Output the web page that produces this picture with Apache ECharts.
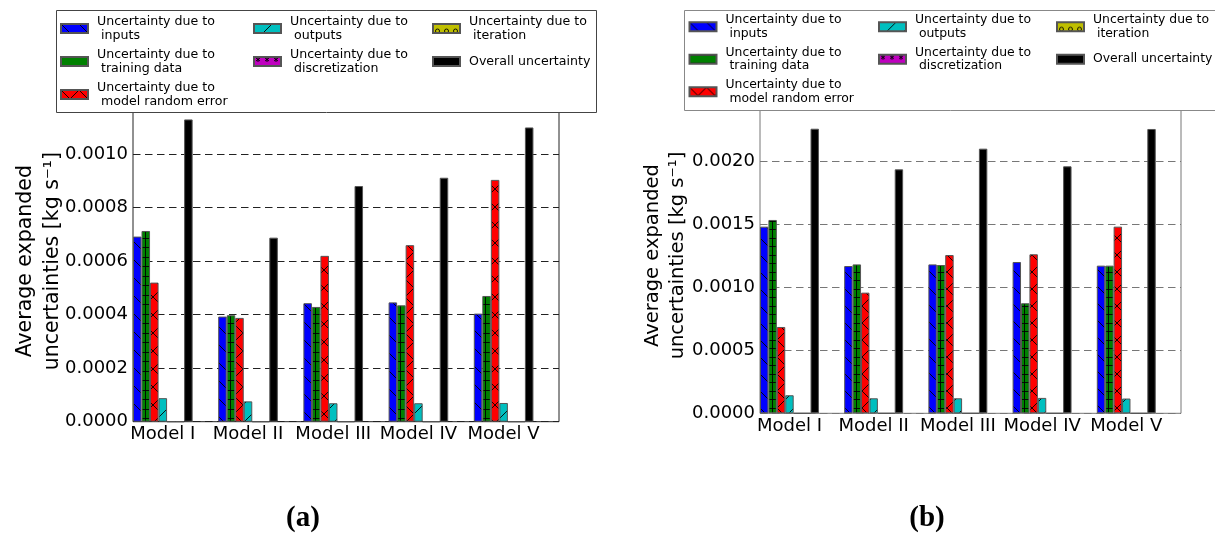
<!DOCTYPE html>
<html>
<head>
<meta charset="utf-8">
<script src="https://cdn.jsdelivr.net/npm/echarts@6/dist/echarts.min.js"></script>
<style>
  html, body { margin: 0; padding: 0; background: #fff; }
  #wrap { position: relative; width: 1215px; height: 533px; overflow: hidden; }
  #chartA { position: absolute; left: 0; top: 0; width: 607px; height: 533px; }
  #chartB { position: absolute; left: 607px; top: 0; width: 608px; height: 533px; filter: blur(0.45px); }
</style>
</head>
<body>
<div id="wrap">
  <div id="chartA"></div>
  <div id="chartB"></div>
</div>
<script>
// Model groups on the x axis
const models = ['Model I', 'Model II', 'Model III', 'Model IV', 'Model V'];

// Uncertainty sources, in legend order (column-major, three columns)
const sourceNames = [
  'Uncertainty due to\n inputs',
  'Uncertainty due to\n training data',
  'Uncertainty due to\n model random error',
  'Uncertainty due to\n outputs',
  'Uncertainty due to\n discretization',
  'Uncertainty due to\n iteration',
  'Overall uncertainty'
];

// Panel (a): average expanded uncertainties [kg s^-1]
const inputsA         = [0.000692, 0.000393, 0.000443, 0.000446, 0.000404];
const trainingA       = [0.000713, 0.000398, 0.000429, 0.000435, 0.000470];
const randomErrorA    = [0.000520, 0.000388, 0.000620, 0.000660, 0.000904];
const outputsA        = [0.0000880, 0.0000760, 0.0000690, 0.0000690, 0.0000700];
const discretizationA = [0, 0, 0, 0, 0];
const iterationA      = [0, 0, 0, 0, 0];
const overallA        = [0.001130, 0.000688, 0.000881, 0.000912, 0.001100];

// Panel (b): average expanded uncertainties [kg s^-1]
const inputsB         = [0.001479, 0.001167, 0.001180, 0.001199, 0.001170];
const trainingB       = [0.001532, 0.001180, 0.001175, 0.000872, 0.001170];
const randomErrorB    = [0.000684, 0.000956, 0.001254, 0.001260, 0.001479];
const outputsB        = [0.000143, 0.000119, 0.000119, 0.000122, 0.000117];
const discretizationB = [0, 0, 0, 0, 0];
const iterationB      = [0, 0, 0, 0, 0];
const overallB        = [0.002255, 0.001933, 0.002097, 0.001957, 0.002253];

// Y tick settings per panel
const yTicksA = { max: 0.0012, interval: 0.0002 };
const yTicksB = { max: 0.0025, interval: 0.0005 };

const yAxisTitle = 'Average expanded\nuncertainties [kg s\u207B\u00B9]';

// Fill colours and hatch kinds for the seven sources
const fills   = ['#0000ff', '#008000', '#ff0000', '#00bfbf', '#bf00bf', '#bfbf00', '#000000'];
const hatches = ['back', 'plus', 'cross', 'fwd', 'star', 'ring', 'none'];

// Each model occupies 10 narrow slots: 7 bars followed by 3 empty slots.
// The model name sits under the middle bar of its group.
const SLOTS_PER_MODEL = 10;
const LABEL_SLOT = Math.floor(sourceNames.length / 2);

function slotCategories() {
  const cats = [];
  models.forEach((m, i) => {
    for (let s = 0; s < SLOTS_PER_MODEL; s++) cats.push(m + '#' + s);
  });
  return cats;
}

function slotData(vals, k) {
  const out = new Array(models.length * SLOTS_PER_MODEL).fill(null);
  vals.forEach((v, i) => { out[i * SLOTS_PER_MODEL + k] = v; });
  return out;
}

function makePattern(fill, kind, p) {
  const c = document.createElement('canvas');
  let w, h;
  if (kind === 'plus') { w = p.pitch; h = p.plusTile; }
  else if (kind === 'star' || kind === 'ring') { w = 9; h = 9; }
  else if (kind === 'none') { w = 4; h = 4; }
  else { w = p.diag; h = p.diag; }
  c.width = w; c.height = h;
  const g = c.getContext('2d');
  g.fillStyle = fill;
  g.fillRect(0, 0, w, h);
  g.strokeStyle = 'rgba(0,0,0,0.9)';
  g.lineWidth = 1;
  const line = (x1, y1, x2, y2) => { g.beginPath(); g.moveTo(x1, y1); g.lineTo(x2, y2); g.stroke(); };
  const S = w;
  if (kind === 'back' || kind === 'cross') {
    for (let k = -1; k <= 1; k++) line(-1, -1 + k * S, S + 1, S + 1 + k * S);
  }
  if (kind === 'fwd' || kind === 'cross') {
    for (let k = 0; k <= 2; k++) line(-1, k * S + 1, S + 1, k * S - S - 1);
  }
  if (kind === 'plus') {
    g.fillStyle = 'rgba(0,0,0,0.9)';
    g.fillRect(0, 0, w, 1);
    g.fillRect(0, p.plusSplit, w, 1);
    g.fillRect(p.plusX, 0, 1, h);
  }
  if (kind === 'star') {
    line(2, 1, 6, 4); line(6, 1, 2, 4); line(4, 0, 4, 5);
  }
  if (kind === 'ring') {
    g.beginPath(); g.arc(4.5, 7, 2, 0, Math.PI * 2); g.stroke();
  }
  return { image: c, repeat: 'repeat' };
}

function buildPanel(el, cfg) {
  const chart = echarts.init(el, null, { renderer: 'canvas' });

  const series = cfg.values.map((vals, k) => ({
    type: 'bar',
    name: sourceNames[k],
    barWidth: '100%',
    barGap: '-100%',
    barCategoryGap: 0,
    z: 2,
    itemStyle: {
      color: makePattern(fills[k], hatches[k], cfg.pattern),
      borderColor: cfg.barEdge,
      borderWidth: 1
    },
    data: slotData(vals, k)
  }));

  const legendText = {
    fontFamily: 'DejaVu Sans',
    fontSize: cfg.legend.fontSize,
    lineHeight: cfg.legend.lineHeight,
    color: '#000',
    padding: [0, 0, 0, 4]
  };
  const cols = [[0, 1, 2], [3, 4], [5, 6]];
  const legends = cols.map((idx, c) => ({
    orient: 'vertical',
    left: cfg.legend.cols[c],
    top: cfg.legend.top,
    padding: 0,
    itemGap: cfg.legend.gap,
    itemWidth: 27,
    itemHeight: 9,
    icon: 'rect',
    selectedMode: false,
    z: 20,
    textStyle: legendText,
    data: idx.map(k => sourceNames[k].indexOf('\n') < 0
      ? { name: sourceNames[k], textStyle: { lineHeight: cfg.legend.lineHeight * 2 } }
      : { name: sourceNames[k] })
  }));

  chart.setOption({
    animation: false,
    backgroundColor: '#fff',
    textStyle: { fontFamily: 'DejaVu Sans' },
    grid: {
      left: cfg.grid.left, right: cfg.grid.right, top: cfg.grid.top, bottom: cfg.grid.bottom,
      containLabel: false,
      outerBoundsMode: 'none',
      show: true, borderColor: cfg.spine, borderWidth: 1, backgroundColor: 'transparent'
    },
    legend: legends,
    graphic: [
      {
        type: 'rect', z: 10,
        shape: cfg.legendBox,
        style: { fill: '#fff', stroke: cfg.legendEdge, lineWidth: 1 }
      },
      {
        type: 'text', z: 10,
        x: cfg.tag.x, y: cfg.tag.y,
        style: {
          text: cfg.tag.text, fill: '#000',
          font: 'bold 29px "Liberation Serif"',
          align: 'center', verticalAlign: 'middle'
        }
      }
    ],
    xAxis: {
      type: 'category',
      data: slotCategories(),
      boundaryGap: true,
      axisLine: { show: false }, axisTick: { show: false }, splitLine: { show: false },
      axisLabel: {
        interval: (idx) => idx % SLOTS_PER_MODEL === LABEL_SLOT,
        formatter: (v) => v.split('#')[0],
        fontSize: 18, color: '#000', margin: 4, fontFamily: 'DejaVu Sans'
      }
    },
    yAxis: {
      type: 'value', min: 0, max: cfg.yTicks.max, interval: cfg.yTicks.interval,
      axisLine: { show: false },
      axisTick: { show: true, inside: true, length: 5, lineStyle: { color: cfg.spine } },
      axisLabel: {
        formatter: v => v.toFixed(4), fontSize: 18, color: '#000', margin: 5,
        fontFamily: 'DejaVu Sans'
      },
      splitLine: { show: true, lineStyle: { color: cfg.gridColor, type: [7.5, 4.5], width: 1 } },
      name: yAxisTitle,
      nameLocation: 'middle',
      nameRotate: 90,
      nameGap: cfg.nameGap,
      nameMoveOverlap: false,
      nameTextStyle: {
        fontSize: cfg.nameSize, lineHeight: cfg.nameLine, color: '#000', fontFamily: 'DejaVu Sans'
      }
    },
    series
  });
  return chart;
}

buildPanel(document.getElementById('chartA'), {
  grid: { left: 133, right: 48, top: 100.7, bottom: 111.3 },
  values: [inputsA, trainingA, randomErrorA, outputsA, discretizationA, iterationA, overallA],
  yTicks: yTicksA,
  pattern: { diag: 18, pitch: 85, plusTile: 19, plusSplit: 10, plusX: 60 },
  barEdge: '#555', spine: '#222', gridColor: '#222', legendEdge: '#444',
  legend: { cols: [60, 253, 432], top: 14.5, gap: 5, fontSize: 12.6, lineHeight: 14 },
  legendBox: { x: 56.5, y: 10.5, width: 540, height: 102 },
  nameGap: 67, nameSize: 20.5, nameLine: 27,
  tag: { text: '(a)', x: 303, y: 519 }
});

buildPanel(document.getElementById('chartB'), {
  grid: { left: 153, right: 34, top: 97.8, bottom: 119.7 },
  values: [inputsB, trainingB, randomErrorB, outputsB, discretizationB, iterationB, overallB],
  yTicks: yTicksB,
  pattern: { diag: 17, pitch: 84, plusTile: 17, plusSplit: 8, plusX: 81 },
  barEdge: '#555', spine: '#777', gridColor: '#777', legendEdge: '#888',
  legend: { cols: [81.5, 271, 449], top: 13.2, gap: 5.5, fontSize: 12.4, lineHeight: 13.5 },
  legendBox: { x: 77.5, y: 10.5, width: 540, height: 100 },
  nameGap: 70, nameSize: 19.5, nameLine: 25,
  tag: { text: '(b)', x: 320, y: 519 }
});
</script>
</body>
</html>
